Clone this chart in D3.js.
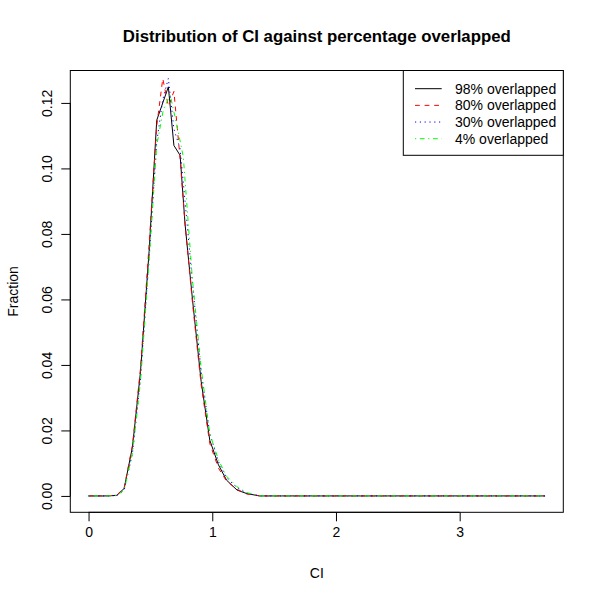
<!DOCTYPE html>
<html>
<head>
<meta charset="utf-8">
<script src="https://cdn.jsdelivr.net/npm/d3@7"></script>
<style>
  body { margin: 0; background: #fff; }
  svg text { font-family: "Liberation Sans", Arial, Helvetica, sans-serif; }
</style>
</head>
<body>
<div class="vis-linechart"></div>
<script>
// CI grid and fractions (each series has its own points)
const ci98 = [0, 0.15, 0.229, 0.288, 0.355, 0.42, 0.49, 0.551, 0.645, 0.69, 0.74, 0.78, 0.84, 0.91, 0.98, 1.05, 1.116, 1.2, 1.28, 1.385, 3.69];
const frac98 = [0, 0, 0.0002, 0.0023, 0.015, 0.038, 0.075, 0.1147, 0.1249, 0.107, 0.104, 0.083, 0.060, 0.035, 0.017, 0.0095, 0.0048, 0.0018, 0.0007, 0, 0];

const ci80 = [0, 0.15, 0.229, 0.288, 0.355, 0.42, 0.49, 0.551, 0.60, 0.645, 0.69, 0.74, 0.78, 0.84, 0.91, 0.98, 1.05, 1.116, 1.2, 1.28, 1.385, 3.69];
const frac80 = [0, 0, 0.0003, 0.0025, 0.0155, 0.039, 0.077, 0.113, 0.1274, 0.119, 0.1235, 0.103, 0.083, 0.059, 0.034, 0.016, 0.0085, 0.0045, 0.002, 0.0006, 0, 0];

const ci30 = [0, 0.15, 0.229, 0.288, 0.355, 0.42, 0.49, 0.551, 0.60, 0.645, 0.69, 0.74, 0.78, 0.84, 0.91, 0.98, 1.05, 1.116, 1.2, 1.28, 1.385, 3.69];
const frac30 = [0, 0, 0.0001, 0.0018, 0.013, 0.036, 0.073, 0.108, 0.121, 0.1275, 0.112, 0.106, 0.09, 0.065, 0.038, 0.019, 0.0105, 0.0055, 0.0025, 0.0008, 0, 0];

const ci4 = [0, 0.15, 0.229, 0.288, 0.355, 0.42, 0.49, 0.551, 0.605, 0.66, 0.726, 0.766, 0.84, 0.91, 0.98, 1.05, 1.116, 1.2, 1.28, 1.385, 3.69];
const frac4 = [0, 0, 0.0001, 0.0018, 0.013, 0.035, 0.072, 0.107, 0.118, 0.1224, 0.111, 0.1035, 0.066, 0.039, 0.019, 0.011, 0.006, 0.0028, 0.001, 0, 0];

const seriesNames = ["98% overlapped", "80% overlapped", "30% overlapped", "4% overlapped"];
const seriesColors = ["#000000", "#ff0000", "#0000ff", "#00ff00"];
const seriesDash = [null, "4.8,4.8", "1.2,3.6", "1.2,3.6,4.8,3.6"];
const xTicks = [0, 1, 2, 3];
const yTicks = [0, 0.02, 0.04, 0.06, 0.08, 0.10, 0.12];

const series = [
    { x: ci98, y: frac98 },
    { x: ci80, y: frac80 },
    { x: ci30, y: frac30 },
    { x: ci4, y: frac4 }
];

const W = 600, H = 600;
const box = { left: 70.3, right: 563.3, top: 70.5, bottom: 512.3 };

const svg = d3.select('.vis-linechart').append('svg')
    .attr('width', W)
    .attr('height', H);

// R-style limits: range of the first series, padded 4% each side
function padded(arr) {
    const [lo, hi] = d3.extent(arr);
    const p = (hi - lo) * 0.04;
    return [lo - p, hi + p];
}

const x = d3.scaleLinear().domain(padded(ci98)).range([box.left, box.right]);
const y = d3.scaleLinear().domain(padded(frac98)).range([box.bottom, box.top]);

const line = d3.line()
    .x(d => x(d[0]))
    .y(d => y(d[1]));

// plot frame
svg.append('rect')
    .attr('x', box.left)
    .attr('y', box.top)
    .attr('width', box.right - box.left)
    .attr('height', box.bottom - box.top)
    .attr('fill', 'none')
    .attr('stroke', '#000')
    .attr('stroke-width', 1);

// x axis
const xAxis = svg.append('g')
    .attr('transform', `translate(0,${box.bottom})`)
    .call(d3.axisBottom(x).tickValues(xTicks).tickSize(9).tickSizeOuter(0).tickFormat(d3.format('d')));
xAxis.select('.domain').remove();
xAxis.append('line')
    .attr('x1', x(xTicks[0])).attr('x2', x(xTicks[xTicks.length - 1]))
    .attr('stroke', '#000');
xAxis.selectAll('.tick line').attr('stroke', '#000');
xAxis.selectAll('.tick text')
    .attr('y', 24.7)
    .attr('dy', null)
    .attr('fill', '#000')
    .attr('font-size', 14);

// y axis, labels rotated like R
const yAxis = svg.append('g')
    .attr('transform', `translate(${box.left},0)`)
    .call(d3.axisLeft(y).tickValues(yTicks).tickSize(9).tickSizeOuter(0).tickFormat(d3.format('.2f')));
yAxis.select('.domain').remove();
yAxis.append('line')
    .attr('y1', y(yTicks[0])).attr('y2', y(yTicks[yTicks.length - 1]))
    .attr('stroke', '#000');
yAxis.selectAll('.tick line').attr('stroke', '#000');
yAxis.selectAll('.tick text')
    .attr('x', null)
    .attr('dy', null)
    .attr('text-anchor', 'middle')
    .attr('transform', 'translate(-18.3,0) rotate(-90)')
    .attr('fill', '#000')
    .attr('font-size', 14);

// curves
const curves = svg.append('g').attr('class', 'curves');
series.forEach((s, i) => {
    curves.append('path')
        .datum(d3.zip(s.x, s.y))
        .attr('d', line)
        .attr('fill', 'none')
        .attr('stroke', seriesColors[i])
        .attr('stroke-width', 1)
        .attr('stroke-dasharray', seriesDash[i]);
});

// titles
svg.append('text')
    .text('Distribution of CI against percentage overlapped')
    .attr('x', (box.left + box.right) / 2)
    .attr('y', 42)
    .attr('text-anchor', 'middle')
    .attr('font-size', 16.8)
    .attr('font-weight', 'bold');

svg.append('text')
    .text('CI')
    .attr('x', (box.left + box.right) / 2)
    .attr('y', 578)
    .attr('text-anchor', 'middle')
    .attr('font-size', 14);

svg.append('text')
    .text('Fraction')
    .attr('transform', `translate(17.5,${(box.top + box.bottom) / 2}) rotate(-90)`)
    .attr('text-anchor', 'middle')
    .attr('font-size', 14);

// legend
const legend = svg.append('g').attr('class', 'legend');
legend.append('rect')
    .attr('x', 403.3)
    .attr('y', box.top)
    .attr('width', box.right - 403.3)
    .attr('height', 155.3 - box.top)
    .attr('fill', '#fff')
    .attr('stroke', '#000');

seriesNames.forEach((name, i) => {
    const cy = 88.7 + i * 16.67;
    legend.append('line')
        .attr('x1', 415).attr('x2', 441.7)
        .attr('y1', cy).attr('y2', cy)
        .attr('stroke', seriesColors[i])
        .attr('stroke-dasharray', seriesDash[i]);
    legend.append('text')
        .text(name)
        .attr('x', 455)
        .attr('y', cy + 5)
        .attr('font-size', 14);
});
</script>
</body>
</html>
